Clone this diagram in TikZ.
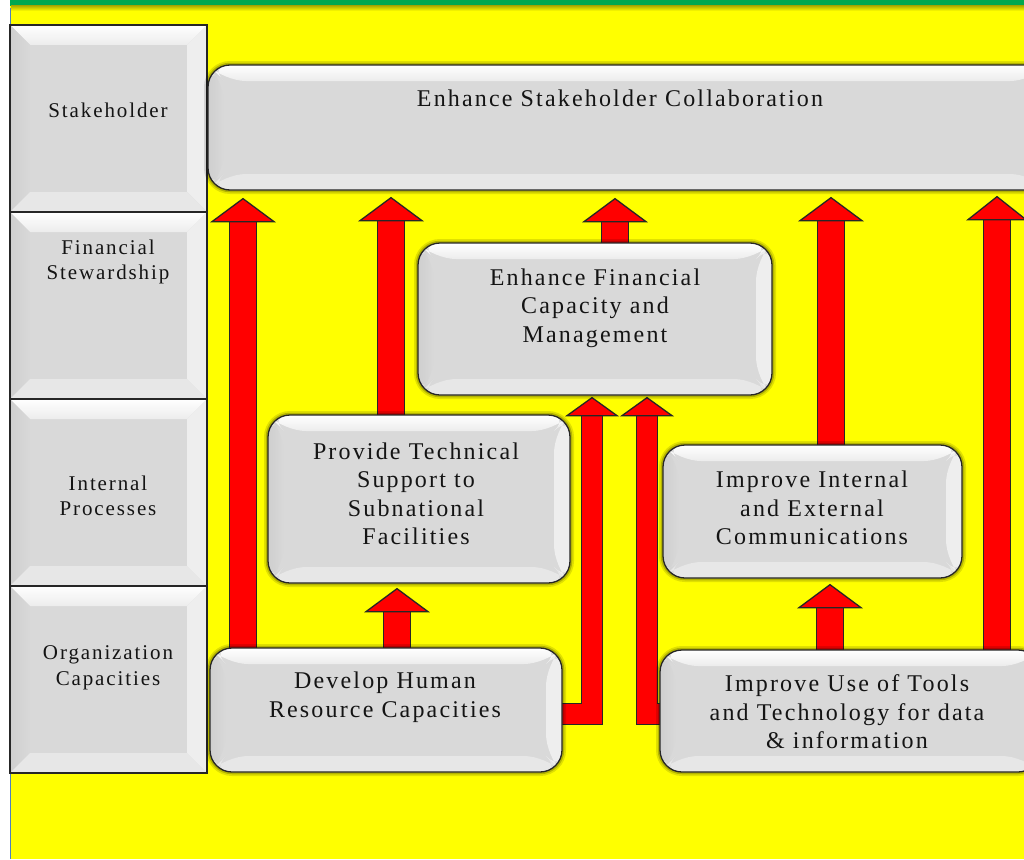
\documentclass[tikz,border=0pt]{standalone}
\usepackage{fontspec}
\setmainfont{Liberation Serif}[LetterSpace=9]
\usetikzlibrary{calc}

\definecolor{bgyellow}{RGB}{255,255,0}
\definecolor{bargreen}{RGB}{0,168,80}
\definecolor{edgeblue}{RGB}{79,129,189}
\definecolor{boxgray}{RGB}{217,217,217}
\definecolor{txtgray}{RGB}{20,20,20}

\pgfdeclarelayer{back}
\pgfdeclarelayer{arrowlayer}
\pgfsetlayers{back,arrowlayer,main}

\tikzset{
  bevel/.style={path picture={
      \path (path picture bounding box.north west) coordinate (bvnw)
            (path picture bounding box.north east) coordinate (bvne)
            (path picture bounding box.south west) coordinate (bvsw)
            (path picture bounding box.south east) coordinate (bvse);
      \shade[top color=white, bottom color=white!50!boxgray] (bvnw) -- (bvne) -- ([xshift=-#1,yshift=-#1]bvne) -- ([xshift=#1,yshift=-#1]bvnw) -- cycle;
      \shade[left color=gray!38, right color=boxgray] (bvnw) -- ([xshift=#1,yshift=-#1]bvnw) -- ([xshift=#1,yshift=#1]bvsw) -- (bvsw) -- cycle;
      \fill[gray!13] (bvne) -- ([xshift=-#1,yshift=-#1]bvne) -- ([xshift=-#1,yshift=#1]bvse) -- (bvse) -- cycle;
      \fill[gray!19] (bvsw) -- ([xshift=#1,yshift=#1]bvsw) -- ([xshift=-#1,yshift=#1]bvse) -- (bvse) -- cycle;
  }},
  sidebox/.style={draw=black!85, line width=1.3pt, fill=boxgray, inner sep=0pt,
      minimum width=197pt, minimum height=187pt, bevel=20pt},
  roundbox/.style={draw=black!85, line width=1.3pt, fill=boxgray, inner sep=0pt,
      rounded corners=22pt, bevel=16pt,
      preaction={draw=black, line width=8pt, opacity=0.12},
      preaction={draw=black, line width=4.5pt, opacity=0.2}},
  sidetxt/.style={text=txtgray, align=center, font=\fontsize{21}{25.5}\selectfont},
  boxtxt/.style={text=txtgray, align=center, font=\fontsize{24}{28.5}\selectfont},
  shaft/.style={draw=black!85, line width=1.3pt, double=red, double distance=26pt, line join=miter},
  thinshaft/.style={draw=black!85, line width=1.3pt, double=red, double distance=20pt, line join=miter},
  head/.style={draw=black!85, fill=red, line width=1.3pt, line join=miter},
}

\begin{document}
\begin{tikzpicture}[x=1pt,y=-1pt]
\useasboundingbox (0,0) rectangle (1024,859);
%Background and frame
\begin{pgfonlayer}{back}
\fill[bgyellow] (10,6) rectangle (1024,859);
\fill[bargreen] (10,0) rectangle (1024,6);
\shade[top color=yellow!70!black, bottom color=bgyellow] (11,6) rectangle (1024,11);
\draw[edgeblue, line width=1.5pt] (10.5,8) -- (10.5,859);
\end{pgfonlayer}

%Perspective column
\node[sidebox] (shbox) at (108.5,118.5) {};
\node[sidebox] (fsbox) at (108.5,305.5) {};
\node[sidebox] (ipbox) at (108.5,492.5) {};
\node[sidebox] (ocbox) at (108.5,679.5) {};

%Objective boxes
\node[roundbox, minimum width=840pt, minimum height=125pt] (stake) at (628,127.5) {};
\node[roundbox, minimum width=354pt, minimum height=152pt] (fin) at (595,319) {};
\node[roundbox, minimum width=302pt, minimum height=168pt] (tech) at (419,499) {};
\node[roundbox, minimum width=299pt, minimum height=133pt] (comm) at (812.5,511.5) {};
\node[roundbox, minimum width=352pt, minimum height=124pt] (dev) at (386,710) {};
\node[roundbox, minimum width=380pt, minimum height=122pt] (use) at (850,711) {};

%Arrow tips
\coordinate (t1) at ($(243,0 |- stake.south)+(0,8)$);
\coordinate (t2) at ($(391,0 |- stake.south)+(0,7)$);
\coordinate (t3) at ($(615,0 |- stake.south)+(0,8)$);
\coordinate (t4) at ($(831,0 |- stake.south)+(0,7)$);
\coordinate (t5) at ($(997,0 |- stake.south)+(0,6)$);
\coordinate (t6) at ($(397,0 |- tech.south)+(0,5)$);
\coordinate (t7) at ($(830,0 |- comm.south)+(0,6)$);
\coordinate (t8) at ($(592,0 |- fin.south)+(0,2)$);
\coordinate (t9) at ($(647,0 |- fin.south)+(0,2)$);

%Arrows, under the boxes
\begin{pgfonlayer}{arrowlayer}
\draw[shaft] (243,0 |- dev.center) -- ($(t1)+(0,15)$);
\draw[head] (t1) -- ++(31,23) -- ++(-62,0) -- cycle;
\draw[shaft] (391,0 |- tech.center) -- ($(t2)+(0,15)$);
\draw[head] (t2) -- ++(31,23) -- ++(-62,0) -- cycle;
\draw[shaft] (615,0 |- fin.center) -- ($(t3)+(0,15)$);
\draw[head] (t3) -- ++(31,23) -- ++(-62,0) -- cycle;
\draw[shaft] (831,0 |- comm.center) -- ($(t4)+(0,15)$);
\draw[head] (t4) -- ++(31,23) -- ++(-62,0) -- cycle;
\draw[shaft] (997,0 |- use.center) -- ($(t5)+(0,15)$);
\draw[head] (t5) -- ++(29,23) -- ++(-58,0) -- cycle;
\draw[shaft] (397,0 |- dev.center) -- ($(t6)+(0,15)$);
\draw[head] (t6) -- ++(31,23) -- ++(-62,0) -- cycle;
\draw[shaft] (830,0 |- use.center) -- ($(t7)+(0,15)$);
\draw[head] (t7) -- ++(31,23) -- ++(-62,0) -- cycle;
\draw[thinshaft] ($(dev.east)+(-10,4)$) -- ($(t8 |- dev.east)+(0,4)$) -- ($(t8)+(0,12)$);
\draw[head] (t8) -- ++(25,18) -- ++(-50,0) -- cycle;
\draw[thinshaft] ($(use.west)+(10,3)$) -- ($(t9 |- use.west)+(0,3)$) -- ($(t9)+(0,12)$);
\draw[head] (t9) -- ++(25,18) -- ++(-50,0) -- cycle;
\end{pgfonlayer}

% Text Node
\node[sidetxt] (shtxt) at (108,110) {Stakeholder};
\node[sidetxt] (fstxt) at (108,262) {Financial\\Stewardship};
\node[sidetxt] (iptxt) at (108,496) {Internal\\Processes};
\node[sidetxt] (octxt) at (108,668) {Organization\\Capacities};
\node[boxtxt] (staketxt) at (620,98) {Enhance Stakeholder Collaboration};
\node[boxtxt] (fintxt) at (595,308) {Enhance Financial\\Capacity and\\Management};
\node[boxtxt] (techtxt) at (416,494) {Provide Technical\\Support to\\Subnational\\Facilities};
\node[boxtxt] (commtxt) at (812,508) {Improve Internal\\and External\\Communications};
\node[boxtxt] (devtxt) at (385,697) {Develop Human\\Resource Capacities};
\node[boxtxt] (usetxt) at (847,712) {Improve Use of Tools\\and Technology for data\\\& information};
\end{tikzpicture}
\end{document}
